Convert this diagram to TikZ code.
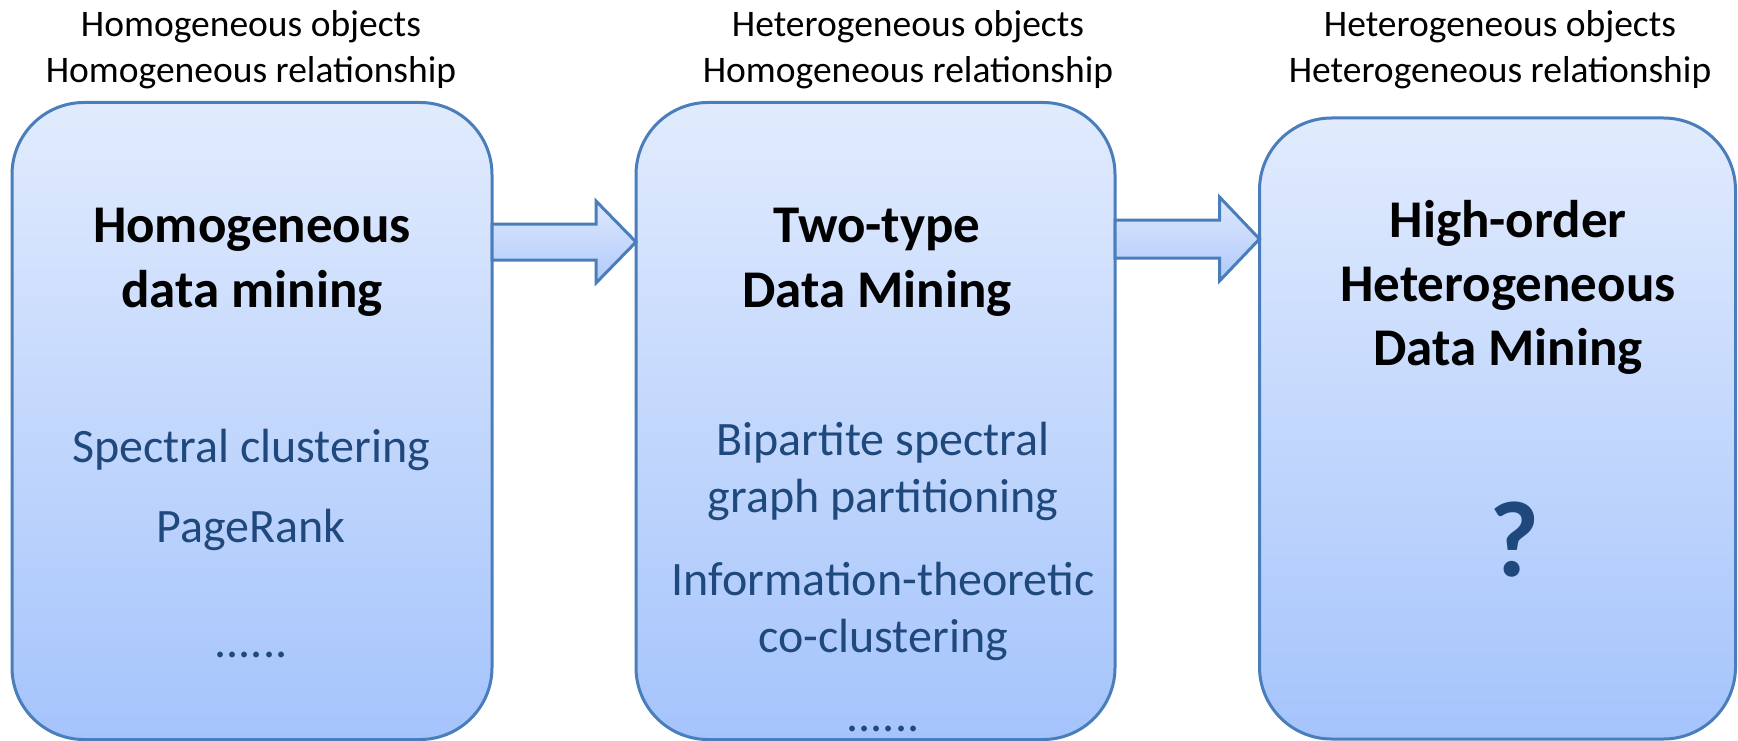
\documentclass[tikz,border=0pt]{standalone}
\usepackage{fontspec}
\setmainfont{Carlito}
\usetikzlibrary{calc}

\definecolor{edgeblue}{RGB}{74,126,187}
\definecolor{filltop}{RGB}{225,235,253}
\definecolor{fillbot}{RGB}{165,196,252}
\definecolor{arrtop}{RGB}{222,232,253}
\definecolor{arrbot}{RGB}{176,202,251}
\definecolor{itemblue}{RGB}{31,73,125}

\tikzset{
  stagebox/.style={draw=edgeblue, line width=3pt, rounded corners=72pt,
    top color=filltop, bottom color=fillbot, inner sep=0pt, outer sep=0pt},
  fatarrow/.style={draw=edgeblue, line width=3pt, line join=miter,
    top color=arrtop, bottom color=arrbot},
  toplabel/.style={anchor=base, inner sep=0pt, font=\fontsize{37.5pt}{46pt}\selectfont},
  titletext/.style={anchor=base, inner sep=0pt, font=\fontsize{53pt}{64pt}\selectfont\bfseries},
  itemtext/.style={anchor=base, inner sep=0pt, text=itemblue, font=\fontsize{48pt}{58pt}\selectfont},
  qmark/.style={anchor=base, inner sep=0pt, text=itemblue, font=\fontsize{108pt}{120pt}\selectfont\bfseries}
}

\begin{document}
\begin{tikzpicture}[x=1pt, y=-1pt]
\useasboundingbox (0,0) rectangle (1738,741);

% axis heights of the two block arrows
\coordinate (ax1) at (0,242);
\coordinate (ax2) at (0,239);

% the three stage boxes (drawn as empty frames, texts placed below)
\path (252,421) node[stagebox, minimum width=480pt, minimum height=637pt] (b1) {};
\path (875.5,421) node[stagebox, minimum width=479pt, minimum height=637pt] (b2) {};
\path (1497.5,428.5) node[stagebox, minimum width=476pt, minimum height=621pt] (b3) {};

% block arrows between the stages
\draw[fatarrow] ($(b1.east|-ax1)+(0,-18)$) -- ($(b2.west|-ax1)+(-40,-18)$)
  -- ($(b2.west|-ax1)+(-40,-41)$) -- (b2.west|-ax1) -- ($(b2.west|-ax1)+(-40,41)$)
  -- ($(b2.west|-ax1)+(-40,18)$) -- ($(b1.east|-ax1)+(0,18)$) -- cycle;
\draw[fatarrow] ($(b2.east|-ax2)+(0,-19)$) -- ($(b3.west|-ax2)+(-40,-19)$)
  -- ($(b3.west|-ax2)+(-40,-42)$) -- (b3.west|-ax2) -- ($(b3.west|-ax2)+(-40,42)$)
  -- ($(b3.west|-ax2)+(-40,19)$) -- ($(b2.east|-ax2)+(0,19)$) -- cycle;

% labels above the boxes
\node[toplabel] (h1a) at (251,37) {Homogeneous objects};
\node[toplabel] (h1b) at (251,83) {Homogeneous relationship};
\node[toplabel] (h2a) at (908,37) {Heterogeneous objects};
\node[toplabel] (h2b) at (908,83) {Homogeneous relationship};
\node[toplabel] (h3a) at (1500,37) {Heterogeneous objects};
\node[toplabel] (h3b) at (1500,83) {Heterogeneous relationship};

% stage 1
\node[titletext] (s1a) at (252,242) {Homogeneous};
\node[titletext] (s1b) at (252,307) {data mining};
\node[itemtext] (i1a) at (251,462) {Spectral clustering};
\node[itemtext] (i1b) at (251,542) {PageRank};
\node[itemtext] (i1c) at (251,657) {......};

% stage 2
\node[titletext] (s2a) at (877,242) {Two-type};
\node[titletext] (s2b) at (877,307) {Data Mining};
\node[itemtext] (i2a) at (883,455) {Bipartite spectral};
\node[itemtext] (i2b) at (883,512) {graph partitioning};
\node[itemtext] (i2c) at (883,595) {Information-theoretic};
\node[itemtext] (i2d) at (883,652) {co-clustering};
\node[itemtext] (i2e) at (883,731) {......};

% stage 3
\node[titletext] (s3a) at (1508,237) {High-order};
\node[titletext] (s3b) at (1508,301) {Heterogeneous};
\node[titletext] (s3c) at (1508,365) {Data Mining};
\node[qmark] (q3) at (1515,576) {?};
\end{tikzpicture}
\end{document}
